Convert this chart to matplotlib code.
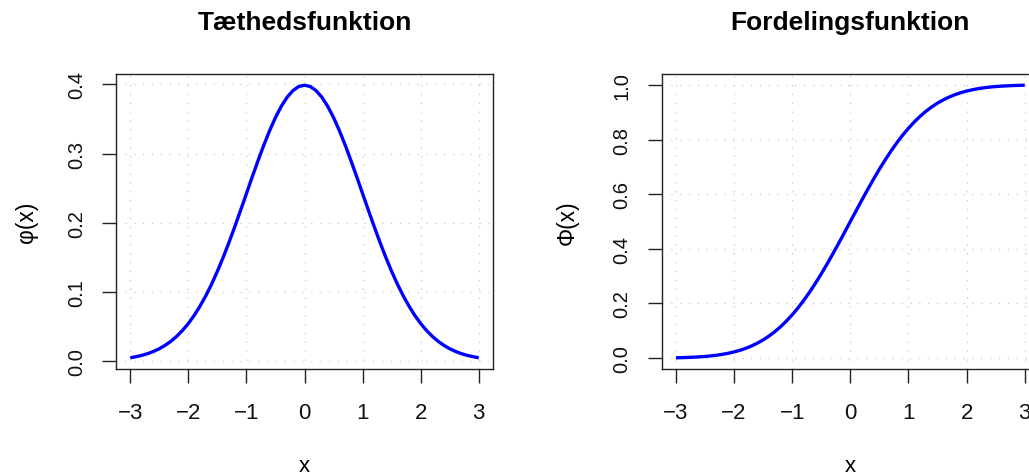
import matplotlib
matplotlib.use("Agg")
import matplotlib.pyplot as plt

plt.rcParams["font.family"] = ["Liberation Sans", "DejaVu Sans"]

# standard normal, sampled every 0.1 from -3 to 3
x_vals = [
    -3.0, -2.9, -2.8, -2.7, -2.6, -2.5, -2.4, -2.3, -2.2, -2.1,
    -2.0, -1.9, -1.8, -1.7, -1.6, -1.5, -1.4, -1.3, -1.2, -1.1,
    -1.0, -0.9, -0.8, -0.7, -0.6, -0.5, -0.4, -0.3, -0.2, -0.1,
    0.0, 0.1, 0.2, 0.3, 0.4, 0.5, 0.6, 0.7, 0.8, 0.9,
    1.0, 1.1, 1.2, 1.3, 1.4, 1.5, 1.6, 1.7, 1.8, 1.9,
    2.0, 2.1, 2.2, 2.3, 2.4, 2.5, 2.6, 2.7, 2.8, 2.9, 3.0,
]
density = [
    0.0044, 0.0060, 0.0079, 0.0104, 0.0136, 0.0175, 0.0224, 0.0283, 0.0355, 0.0440,
    0.0540, 0.0656, 0.0790, 0.0940, 0.1109, 0.1295, 0.1497, 0.1714, 0.1942, 0.2179,
    0.2420, 0.2661, 0.2897, 0.3123, 0.3332, 0.3521, 0.3683, 0.3814, 0.3910, 0.3970,
    0.3989, 0.3970, 0.3910, 0.3814, 0.3683, 0.3521, 0.3332, 0.3123, 0.2897, 0.2661,
    0.2420, 0.2179, 0.1942, 0.1714, 0.1497, 0.1295, 0.1109, 0.0940, 0.0790, 0.0656,
    0.0540, 0.0440, 0.0355, 0.0283, 0.0224, 0.0175, 0.0136, 0.0104, 0.0079, 0.0060, 0.0044,
]
cumulative = [
    0.0013, 0.0019, 0.0026, 0.0035, 0.0047, 0.0062, 0.0082, 0.0107, 0.0139, 0.0179,
    0.0228, 0.0287, 0.0359, 0.0446, 0.0548, 0.0668, 0.0808, 0.0968, 0.1151, 0.1357,
    0.1587, 0.1841, 0.2119, 0.2420, 0.2743, 0.3085, 0.3446, 0.3821, 0.4207, 0.4602,
    0.5000, 0.5398, 0.5793, 0.6179, 0.6554, 0.6915, 0.7257, 0.7580, 0.7881, 0.8159,
    0.8413, 0.8643, 0.8849, 0.9032, 0.9192, 0.9332, 0.9452, 0.9554, 0.9641, 0.9713,
    0.9772, 0.9821, 0.9861, 0.9893, 0.9918, 0.9938, 0.9953, 0.9965, 0.9974, 0.9981, 0.9987,
]

x_ticks = [-3, -2, -1, 0, 1, 2, 3]
x_ticklabels = ["\u22123", "\u22122", "\u22121", "0", "1", "2", "3"]
pdf_ticks = [0.0, 0.1, 0.2, 0.3, 0.4]
cdf_ticks = [0.0, 0.2, 0.4, 0.6, 0.8, 1.0]

W, H = 1029, 477
fig = plt.figure(figsize=(W / 100, H / 100), dpi=100, facecolor="white")


def px_box(left, top, right, bottom):
    return [left / W, 1 - bottom / H, (right - left) / W, (bottom - top) / H]


def r_limits(values):
    lo, hi = min(values), max(values)
    pad = (hi - lo) * 0.04
    return lo - pad, hi + pad


def draw_panel(box, y, yticks, title, ylabel, ylabel_x):
    ax = fig.add_axes(px_box(*box))
    ax.grid(True, color="#C4C4C4", linestyle=(0, (1, 6.5)), linewidth=0.85)
    ax.set_axisbelow(True)
    ax.plot(x_vals, y, color="#0000FF", linewidth=2.4, solid_capstyle="butt", zorder=3)
    ax.set_xlim(*r_limits(x_vals))
    ax.set_ylim(*r_limits(y))
    ax.set_xticks(x_ticks)
    ax.set_xticklabels(x_ticklabels, fontsize=16)
    ax.set_yticks(yticks)
    ax.set_yticklabels([f"{t:.1f}" for t in yticks], rotation=90, va="center",
                       fontsize=14.5)
    ax.tick_params(direction="out", length=9.8, width=1.0,
                   color="#222222", labelcolor="#111111")
    ax.tick_params(axis="x", pad=14)
    ax.tick_params(axis="y", pad=12)
    for sp in ax.spines.values():
        sp.set_linewidth(1.0)
        sp.set_color("#222222")

    cx = (box[0] + box[2]) / 2
    fig.text(cx / W, 1 - 29.7 / H, title, ha="center", va="baseline",
             fontsize=19, fontweight="bold")
    fig.text(cx / W, 1 - 466.7 / H, "x", ha="center", va="center", fontsize=16)
    fig.text(ylabel_x / W, 1 - 222.5 / H, ylabel, ha="center", va="center",
             rotation=90, fontsize=16.5)
    return ax


draw_panel((116.3, 75.3, 492.7, 369.7), density, pdf_ticks,
           "Tæthedsfunktion", "φ(x)", 26.7)
draw_panel((662.0, 75.3, 1038.7, 369.7), cumulative, cdf_ticks,
           "Fordelingsfunktion", "Φ(x)", 567.7)

fig.savefig("out.png", dpi=100, facecolor="white")
